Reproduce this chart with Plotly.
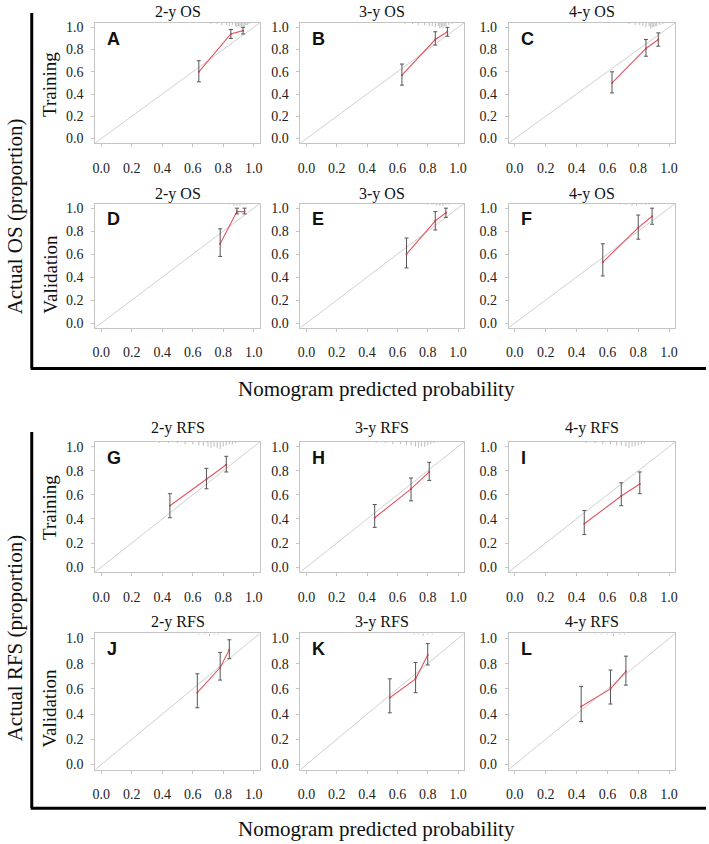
import plotly.graph_objects as go

# panel order: A-C OS training, D-F OS validation, G-I RFS training, J-L RFS validation
panels = ["A", "B", "C", "D", "E", "F", "G", "H", "I", "J", "K", "L"]
titles = ["2-y OS", "3-y OS", "4-y OS", "2-y OS", "3-y OS", "4-y OS",
          "2-y RFS", "3-y RFS", "4-y RFS", "2-y RFS", "3-y RFS", "4-y RFS"]

# nomogram predicted probability (x) and observed proportion (y) with 95% CI
pred_x = {
    "A": [0.64, 0.85, 0.93], "B": [0.63, 0.85, 0.93], "C": [0.63, 0.85, 0.93],
    "D": [0.78, 0.89, 0.94], "E": [0.66, 0.85, 0.92], "F": [0.57, 0.80, 0.89],
    "G": [0.45, 0.69, 0.82], "H": [0.45, 0.69, 0.81], "I": [0.45, 0.69, 0.81],
    "J": [0.63, 0.78, 0.84], "K": [0.55, 0.72, 0.80], "L": [0.43, 0.62, 0.72],
}
obs_y = {
    "A": [0.60, 0.94, 0.97], "B": [0.57, 0.89, 0.96], "C": [0.50, 0.81, 0.89],
    "D": [0.69, 0.97, 0.97], "E": [0.60, 0.89, 0.96], "F": [0.53, 0.83, 0.93],
    "G": [0.51, 0.73, 0.85], "H": [0.41, 0.65, 0.79], "I": [0.36, 0.59, 0.69],
    "J": [0.57, 0.77, 0.91], "K": [0.53, 0.68, 0.87], "L": [0.46, 0.60, 0.74],
}
ci_low = {
    "A": [0.51, 0.90, 0.94], "B": [0.48, 0.84, 0.92], "C": [0.41, 0.74, 0.83],
    "D": [0.58, 0.95, 0.95], "E": [0.48, 0.81, 0.92], "F": [0.41, 0.73, 0.86],
    "G": [0.41, 0.65, 0.79], "H": [0.33, 0.55, 0.72], "I": [0.27, 0.51, 0.61],
    "J": [0.45, 0.67, 0.84], "K": [0.41, 0.57, 0.79], "L": [0.34, 0.48, 0.63],
}
ci_high = {
    "A": [0.70, 0.98, 1.00], "B": [0.67, 0.96, 1.00], "C": [0.60, 0.89, 0.95],
    "D": [0.82, 1.00, 1.00], "E": [0.74, 0.97, 1.00], "F": [0.69, 0.94, 1.00],
    "G": [0.61, 0.82, 0.92], "H": [0.52, 0.74, 0.87], "I": [0.47, 0.70, 0.79],
    "J": [0.72, 0.89, 0.99], "K": [0.68, 0.81, 0.96], "L": [0.62, 0.75, 0.86],
}

# distribution of predictions shown as a rug along the top of each panel
rug_x = {
    "A": [0.72, 0.76, 0.79, 0.82, 0.84, 0.86, 0.88, 0.89, 0.90, 0.91, 0.92, 0.93, 0.94, 0.95, 0.96, 0.97],
    "B": [0.65, 0.70, 0.74, 0.78, 0.81, 0.83, 0.85, 0.87, 0.88, 0.89, 0.90, 0.91, 0.92, 0.94, 0.96],
    "C": [0.74, 0.78, 0.81, 0.83, 0.85, 0.87, 0.88, 0.89, 0.90, 0.91, 0.92, 0.94, 0.96],
    "D": [0.84, 0.87, 0.89, 0.91, 0.93, 0.95],
    "E": [0.80, 0.83, 0.86, 0.88, 0.90, 0.92, 0.94],
    "F": [0.68, 0.72, 0.76, 0.79, 0.82, 0.85, 0.87],
    "G": [0.38, 0.44, 0.50, 0.55, 0.60, 0.64, 0.67, 0.70, 0.72, 0.74, 0.76, 0.78, 0.80, 0.82, 0.84, 0.86, 0.88],
    "H": [0.46, 0.52, 0.57, 0.62, 0.66, 0.69, 0.72, 0.74, 0.76, 0.78, 0.80, 0.82, 0.84],
    "I": [0.46, 0.52, 0.57, 0.62, 0.66, 0.69, 0.72, 0.74, 0.76, 0.78, 0.80, 0.82, 0.84],
    "J": [0.64, 0.68, 0.71, 0.74, 0.77],
    "K": [0.71, 0.74, 0.77, 0.80, 0.83],
    "L": [0.52, 0.56, 0.60, 0.64, 0.68, 0.71],
}
rug_h = {
    "A": [0.01, 0.01, 0.02, 0.02, 0.03, 0.02, 0.03, 0.04, 0.03, 0.04, 0.03, 0.04, 0.03, 0.02, 0.02, 0.01],
    "B": [0.01, 0.01, 0.02, 0.02, 0.03, 0.03, 0.04, 0.03, 0.05, 0.04, 0.05, 0.03, 0.03, 0.02, 0.01],
    "C": [0.01, 0.02, 0.02, 0.03, 0.04, 0.03, 0.05, 0.04, 0.04, 0.03, 0.03, 0.02, 0.01],
    "D": [0.01, 0.02, 0.02, 0.02, 0.01, 0.01],
    "E": [0.01, 0.01, 0.02, 0.02, 0.02, 0.01, 0.01],
    "F": [0.01, 0.01, 0.02, 0.02, 0.01, 0.01, 0.01],
    "G": [0.01, 0.01, 0.01, 0.02, 0.02, 0.03, 0.03, 0.04, 0.05, 0.04, 0.05, 0.06, 0.04, 0.03, 0.02, 0.02, 0.01],
    "H": [0.01, 0.01, 0.02, 0.02, 0.03, 0.03, 0.04, 0.05, 0.04, 0.04, 0.03, 0.02, 0.01],
    "I": [0.01, 0.01, 0.02, 0.02, 0.03, 0.03, 0.04, 0.05, 0.04, 0.04, 0.03, 0.02, 0.01],
    "J": [0.01, 0.01, 0.02, 0.01, 0.01],
    "K": [0.01, 0.01, 0.02, 0.01, 0.01],
    "L": [0.01, 0.01, 0.01, 0.02, 0.01, 0.01],
}

tick_vals = [0.0, 0.2, 0.4, 0.6, 0.8, 1.0]
tick_text = ["0.0", "0.2", "0.4", "0.6", "0.8", "1.0"]

W, H = 709, 844


def px(x):
    return x / W


def py(y):
    return 1 - y / H


# plot boxes in pixels (left, right) per column and (top, bottom) per row
col_px = [(93, 259), (300, 465), (510, 678)]
row_px = [(20, 141), (202, 327), (442, 573), (635, 772)]
title_y = [9, 192, 428, 623]

serif = "Liberation Serif"
fig = go.Figure()
layout = {}
annotations = []
rng = [-0.04, 1.04]

for i, p in enumerate(panels):
    r, c = divmod(i, 3)
    n = i + 1
    xa = "x" if n == 1 else f"x{n}"
    ya = "y" if n == 1 else f"y{n}"
    L, R = col_px[c]
    T, B = row_px[r]

    # reference line
    fig.add_trace(go.Scatter(x=rng, y=rng, mode="lines", xaxis=xa, yaxis=ya,
                             line=dict(color="#cfcfcf", width=1), hoverinfo="skip"))
    # rug of predictions
    rx, ry = [], []
    for v, h in zip(rug_x[p], rug_h[p]):
        rx += [v, v, None]
        ry += [1.04, 1.04 - h, None]
    fig.add_trace(go.Scatter(x=rx, y=ry, mode="lines", xaxis=xa, yaxis=ya,
                             line=dict(color="#bdbdbd", width=1), hoverinfo="skip"))
    # calibration curve
    fig.add_trace(go.Scatter(x=pred_x[p], y=obs_y[p], mode="lines", xaxis=xa, yaxis=ya,
                             line=dict(color="#e5535f", width=1.1)))
    fig.add_trace(go.Scatter(
        x=pred_x[p], y=obs_y[p], mode="markers", xaxis=xa, yaxis=ya,
        marker=dict(color="#c0404e", size=2),
        error_y=dict(type="data", symmetric=False,
                     array=[h - y for h, y in zip(ci_high[p], obs_y[p])],
                     arrayminus=[y - l for y, l in zip(obs_y[p], ci_low[p])],
                     color="#555555", thickness=1, width=2)))

    axis_common = dict(range=rng, fixedrange=True, showgrid=False, zeroline=False,
                       showline=True, mirror=True, linecolor="#c4c4c4", linewidth=1,
                       ticks="outside", ticklen=3, tickcolor="#c4c4c4",
                       tickvals=tick_vals, ticktext=tick_text,
                       tickfont=dict(family=serif, size=14, color="#222222"))
    layout["xaxis" if n == 1 else f"xaxis{n}"] = dict(
        axis_common, domain=[px(L), px(R)], anchor=ya, ticklabelstandoff=9)
    layout["yaxis" if n == 1 else f"yaxis{n}"] = dict(
        axis_common, domain=[py(B), py(T)], anchor=xa, ticklabelstandoff=5)

    # panel title and letter
    annotations.append(dict(text=titles[i], x=px((L + R) / 2), y=py(title_y[r]),
                            xanchor="center", yanchor="middle",
                            font=dict(family=serif, size=16, color="#111111")))
    annotations.append(dict(text=f"<b>{p}</b>", x=px(L + 10), y=py(T + 16),
                            xanchor="left", yanchor="middle",
                            font=dict(family="Liberation Sans", size=18, color="#111111")))

# row labels and shared axis labels
row_names = [("Training", 82), ("Validation", 273), ("Training", 508), ("Validation", 710)]
for name, yc in row_names:
    annotations.append(dict(text=name, x=px(47), y=py(yc), textangle=-90,
                            xanchor="center", yanchor="middle",
                            font=dict(family=serif, size=19, color="#111111")))
for name, yc in [("Actual OS (proportion)", 215), ("Actual RFS (proportion)", 640)]:
    annotations.append(dict(text=name, x=px(13), y=py(yc), textangle=-90,
                            xanchor="center", yanchor="middle",
                            font=dict(family=serif, size=21, color="#111111")))
for yc in [389, 832]:
    annotations.append(dict(text="Nomogram predicted probability", x=px(377), y=py(yc),
                            xanchor="center", yanchor="middle",
                            font=dict(family=serif, size=21, color="#111111")))

for a in annotations:
    a.update(xref="paper", yref="paper", showarrow=False)

# thick bracket lines framing each block
shapes = []
for top, bottom in [(10, 368), (432, 811)]:
    shapes.append(dict(type="line", xref="paper", yref="paper", x0=px(29), x1=px(29),
                       y0=py(top), y1=py(bottom), line=dict(color="black", width=3)))
    shapes.append(dict(type="line", xref="paper", yref="paper", x0=px(28), x1=1,
                       y0=py(bottom), y1=py(bottom), line=dict(color="black", width=3)))

fig.update_layout(
    width=W, height=H,
    margin=dict(l=0, r=0, t=0, b=0),
    paper_bgcolor="white", plot_bgcolor="white",
    showlegend=False,
    hovermode=False,
    annotations=annotations,
    shapes=shapes,
    **layout,
)

# drop the default page margin so the figure fills the window exactly
fig.write_html("out.html", config={"displayModeBar": False},
               post_script="document.body.style.margin = '0';")
